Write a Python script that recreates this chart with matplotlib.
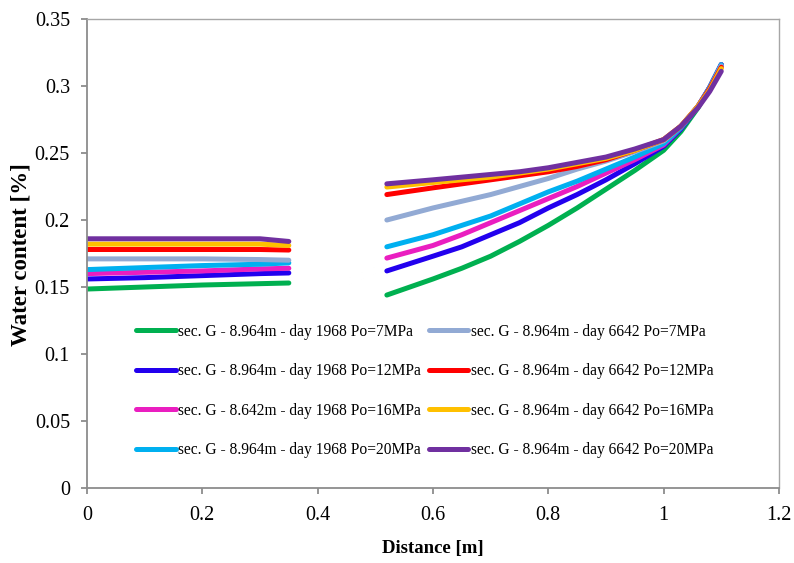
import matplotlib
matplotlib.use("Agg")
import matplotlib.pyplot as plt

# left block (near the wall)
x_left = [0, 0.1, 0.2, 0.3, 0.35]
left_vals = {
    "g1968_7": [0.1485, 0.150, 0.1515, 0.1525, 0.153],
    "g1968_12": [0.156, 0.157, 0.1585, 0.160, 0.1605],
    "g1968_16": [0.160, 0.161, 0.162, 0.1635, 0.164],
    "g1968_20": [0.163, 0.1645, 0.166, 0.167, 0.168],
    "g6642_7": [0.171, 0.171, 0.171, 0.1705, 0.170],
    "g6642_12": [0.178, 0.178, 0.178, 0.178, 0.1776],
    "g6642_16": [0.182, 0.182, 0.182, 0.182, 0.181],
    "g6642_20": [0.186, 0.186, 0.186, 0.186, 0.184],
}

# right block
x_right = [0.52, 0.6, 0.65, 0.7, 0.75, 0.8, 0.85, 0.9, 0.95, 1.0, 1.03, 1.06, 1.08, 1.1]
right_vals = {
    "g1968_7": [0.144, 0.156, 0.164, 0.173, 0.184, 0.196, 0.209, 0.223, 0.237, 0.252, 0.266, 0.284, 0.299, 0.316],
    "g1968_12": [0.162, 0.173, 0.180, 0.189, 0.198, 0.209, 0.219, 0.230, 0.242, 0.255, 0.268, 0.285, 0.299, 0.316],
    "g1968_16": [0.1716, 0.181, 0.189, 0.198, 0.207, 0.216, 0.225, 0.235, 0.245, 0.256, 0.269, 0.285, 0.299, 0.316],
    "g1968_20": [0.180, 0.189, 0.196, 0.203, 0.212, 0.221, 0.229, 0.238, 0.247, 0.257, 0.269, 0.285, 0.299, 0.316],
    "g6642_7": [0.200, 0.209, 0.214, 0.219, 0.225, 0.231, 0.238, 0.244, 0.251, 0.259, 0.270, 0.285, 0.298, 0.315],
    "g6642_12": [0.219, 0.224, 0.227, 0.230, 0.233, 0.236, 0.240, 0.245, 0.252, 0.260, 0.270, 0.285, 0.298, 0.314],
    "g6642_16": [0.2246, 0.228, 0.230, 0.232, 0.235, 0.238, 0.242, 0.246, 0.252, 0.260, 0.270, 0.285, 0.297, 0.313],
    "g6642_20": [0.227, 0.230, 0.232, 0.234, 0.236, 0.239, 0.243, 0.247, 0.253, 0.260, 0.270, 0.284, 0.296, 0.311],
}

labels = {
    "g1968_7": "sec. G - 8.964m - day 1968 Po=7MPa",
    "g1968_12": "sec. G - 8.964m - day 1968 Po=12MPa",
    "g1968_16": "sec. G - 8.642m - day 1968 Po=16MPa",
    "g1968_20": "sec. G - 8.964m - day 1968 Po=20MPa",
    "g6642_7": "sec. G - 8.964m - day 6642 Po=7MPa",
    "g6642_12": "sec. G - 8.964m - day 6642 Po=12MPa",
    "g6642_16": "sec. G - 8.964m - day 6642 Po=16MPa",
    "g6642_20": "sec. G - 8.964m - day 6642 Po=20MPa",
}
colors = {
    "g1968_7": "#00B050",
    "g1968_12": "#2200EE",
    "g1968_16": "#EA1EC0",
    "g1968_20": "#00B0F0",
    "g6642_7": "#92AAD4",
    "g6642_12": "#FF0000",
    "g6642_16": "#FFC000",
    "g6642_20": "#7030A0",
}
order = ["g1968_7", "g1968_12", "g1968_16", "g1968_20",
         "g6642_7", "g6642_12", "g6642_16", "g6642_20"]

xticks = [0, 0.2, 0.4, 0.6, 0.8, 1.0, 1.2]
xtick_labels = ["0", "0.2", "0.4", "0.6", "0.8", "1", "1.2"]
yticks = [0, 0.05, 0.1, 0.15, 0.2, 0.25, 0.3, 0.35]
ytick_labels = ["0", "0.05", "0.1", "0.15", "0.2", "0.25", "0.3", "0.35"]

plt.rcParams["font.family"] = ["Liberation Serif", "DejaVu Serif"]

fig = plt.figure(figsize=(7.94, 5.63), dpi=100)
ax = fig.add_axes([0.1096, 0.1332, 0.8714, 0.8330])

handles = []
for k in order:
    h, = ax.plot(x_left, left_vals[k], color=colors[k], lw=3.6, solid_capstyle="round",
                 solid_joinstyle="round", label=labels[k])
    ax.plot(x_right, right_vals[k], color=colors[k], lw=3.6, solid_capstyle="round",
            solid_joinstyle="round")
    handles.append(h)

ax.set_xlim(0, 1.2)
ax.set_ylim(0, 0.35)
ax.set_xticks(xticks)
ax.set_xticklabels(xtick_labels)
ax.set_yticks(yticks)
ax.set_yticklabels(ytick_labels)
ax.tick_params(labelsize=14.5, color="#8c8c8c", width=1.3, length=4.3, direction="out")
ax.tick_params(axis="x", pad=9)
ax.tick_params(axis="y", pad=8)
for s in ["left", "bottom"]:
    ax.spines[s].set_color("#8c8c8c")
    ax.spines[s].set_linewidth(1.3)
for s in ["top", "right"]:
    ax.spines[s].set_color("#a6a6a6")
    ax.spines[s].set_linewidth(1.0)

ax.set_xlabel("Distance [m]", fontsize=13.5, fontweight="bold")
ax.xaxis.set_label_coords(0.5, -0.128)
ax.xaxis.label.set_va("center")
ax.set_ylabel("Water content [%]", fontsize=16.5, fontweight="bold")
ax.yaxis.set_label_coords(-0.095, 0.497)
ax.yaxis.label.set_va("center")

ax.legend(handles=handles, ncol=2, loc="center", bbox_to_anchor=(0.488, 0.207),
          frameon=False, fontsize=11.2, handlelength=2.55, handletextpad=0.15,
          columnspacing=0.5, labelspacing=1.505)

fig.savefig("out.png", dpi=100)
